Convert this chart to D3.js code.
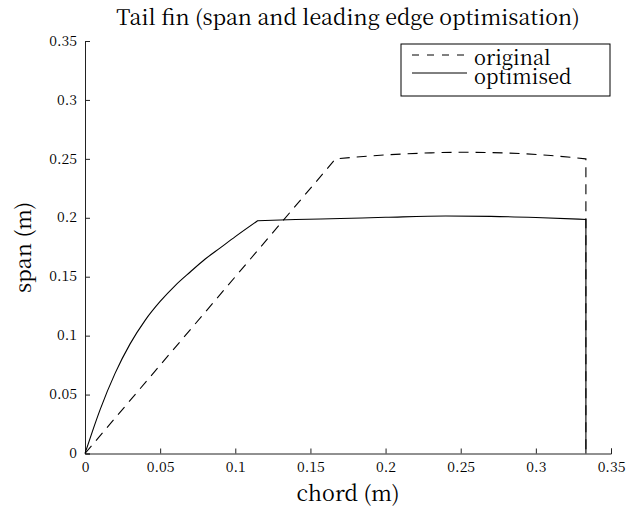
<!DOCTYPE html>
<html>
<head>
<meta charset="utf-8">
<script src="https://cdn.jsdelivr.net/npm/d3@7"></script>
<style>
  html, body { margin: 0; padding: 0; background: #fff; }
</style>
</head>
<body>
<svg id="chart" width="626" height="512"></svg>
<script>
// Planform outlines of the tail fin: chord position (m) vs span (m)
const originalChord = [0, 0.1667, 0.19, 0.21, 0.23, 0.25, 0.27, 0.29, 0.31, 0.3333, 0.3333];
const originalSpan  = [0, 0.250, 0.2525, 0.254, 0.2551, 0.2556, 0.2553, 0.2545, 0.2528, 0.250, 0];

const optimisedChord = [0, 0.005, 0.01, 0.02, 0.03, 0.04, 0.05, 0.06, 0.07, 0.08, 0.09, 0.10, 0.1149,
                        0.14, 0.17, 0.20, 0.24, 0.27, 0.30, 0.3333, 0.3333];
const optimisedSpan  = [0, 0.019, 0.037, 0.068, 0.093, 0.113, 0.129, 0.1425, 0.154, 0.165, 0.1745, 0.184, 0.1975,
                        0.1985, 0.1994, 0.2004, 0.2015, 0.2012, 0.2002, 0.1986, 0];

const xTicks = [0, 0.05, 0.1, 0.15, 0.2, 0.25, 0.3, 0.35];
const xTickLabels = ["0", "0.05", "0.1", "0.15", "0.2", "0.25", "0.3", "0.35"];
const yTicks = [0, 0.05, 0.1, 0.15, 0.2, 0.25, 0.3, 0.35];
const yTickLabels = ["0", "0.05", "0.1", "0.15", "0.2", "0.25", "0.3", "0.35"];

const seriesNames = ["original", "optimised"];

const FONT = "Noto Serif CJK SC";

const svg = d3.select("#chart");

const x = d3.scaleLinear().domain([0, 0.35]).range([85, 611]);
const y = d3.scaleLinear().domain([0, 0.35]).range([453.5, 41]);

// Axes with inward-pointing ticks
const xAxis = d3.axisBottom(x)
  .tickValues(xTicks)
  .tickFormat((d, i) => xTickLabels[i])
  .tickSizeInner(-5).tickSizeOuter(-5).tickPadding(8);
const yAxis = d3.axisLeft(y)
  .tickValues(yTicks)
  .tickFormat((d, i) => yTickLabels[i])
  .tickSizeInner(-5).tickSizeOuter(-5).tickPadding(8);

const gx = svg.append("g").attr("transform", `translate(0,${y(0)})`).call(xAxis);
const gy = svg.append("g").attr("transform", `translate(${x(0)},0)`).call(yAxis);

[gx, gy].forEach(g => {
  g.attr("font-family", FONT).attr("font-size", 14);
  g.selectAll("path, line").attr("stroke", "#222").attr("stroke-width", 1);
  g.selectAll("text").attr("fill", "#000");
});
gx.selectAll("text").attr("dy", "0.72em");
gy.selectAll("text").attr("dy", "0.3em");

// Outline paths: smooth leading and trailing edges, sharp corners, straight root side
function outlinePath(chord, span, cornerIdx) {
  const pts = chord.map((c, i) => [c, span[i]]);
  const seg = d3.line().x(d => x(d[0])).y(d => y(d[1])).curve(d3.curveMonotoneX);
  const lead = seg(pts.slice(0, cornerIdx + 1));
  const trail = seg(pts.slice(cornerIdx, pts.length - 1)).replace(/^M/, "L");
  const last = pts[pts.length - 1];
  return lead + trail + `L${x(last[0])},${y(last[1])}`;
}

svg.append("path")
  .attr("d", outlinePath(optimisedChord, optimisedSpan, 12))
  .attr("fill", "none")
  .attr("stroke", "#000")
  .attr("stroke-width", 1.1);

svg.append("path")
  .attr("d", outlinePath(originalChord, originalSpan, 1))
  .attr("fill", "none")
  .attr("stroke", "#000")
  .attr("stroke-width", 1.1)
  .attr("stroke-dasharray", "10,7");

// Title and axis labels
function label(t, size) {
  return t.attr("font-family", FONT).attr("font-size", size).attr("fill", "#000");
}

label(svg.append("text"), 21.4)
  .attr("x", 348).attr("y", 25)
  .attr("text-anchor", "middle")
  .text("Tail fin (span and leading edge optimisation)");

label(svg.append("text"), 21.5)
  .attr("x", 348).attr("y", 501)
  .attr("text-anchor", "middle")
  .text("chord (m)");

label(svg.append("text"), 21.5)
  .attr("transform", `translate(31,${(y(0) + y(0.35)) / 2}) rotate(-90)`)
  .attr("text-anchor", "middle")
  .text("span (m)");

// Legend
const legend = svg.append("g");
legend.append("rect")
  .attr("x", 401).attr("y", 44)
  .attr("width", 209).attr("height", 52)
  .attr("fill", "#fff")
  .attr("stroke", "#000")
  .attr("stroke-width", 1);

const legendDash = ["7,8", null];
seriesNames.forEach((name, i) => {
  const ly = 55 + i * 18;
  legend.append("line")
    .attr("x1", 412).attr("x2", 467)
    .attr("y1", ly).attr("y2", ly)
    .attr("stroke", "#000")
    .attr("stroke-width", 1)
    .attr("stroke-dasharray", legendDash[i]);
  label(legend.append("text"), 20)
    .attr("x", 474).attr("y", ly + 10 + i)
    .text(name);
});
</script>
</body>
</html>
